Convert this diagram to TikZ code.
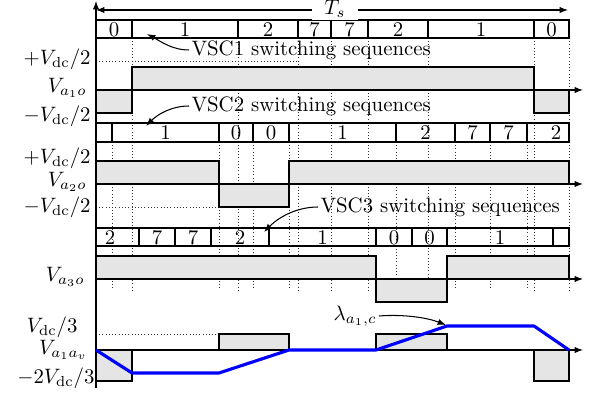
\documentclass[tikz,border=0pt]{standalone}
\usetikzlibrary{arrows.meta}
\begin{document}
\begin{tikzpicture}[x=0.48pt,y=-0.48pt,
  wave/.style={line width=1pt, line join=miter},
  gfill/.style={fill=gray!20},
  seqrow/.style={line width=0.5pt},
  guide/.style={line width=0.4pt, dash pattern=on 0.45pt off 1.1pt, black!80},
  axis/.style={line width=0.5pt, -{Latex[length=4pt,width=3pt]}},
  lbl/.style={anchor=east, inner sep=0pt},
  num/.style={inner sep=0pt},
  note/.style={anchor=west, inner sep=1pt},
  callout/.style={line width=0.5pt, -{Latex[length=4pt,width=3pt]}},
  vavg/.style={blue, line width=1.5pt, line join=round},
]
\useasboundingbox (0,0) rectangle (597,399);

% guide lines
\foreach \x in {132,238,298,331,368,428,534,569} \draw[guide] (\x,38) -- (\x,290);
\foreach \x in {112,219,253,289,396,455,490,527} \draw[guide] (\x,142) -- (\x,290);
\draw[guide] (96,61) -- (298,61);
\draw[guide] (96,207) -- (219,207);
\draw[guide] (96,334) -- (219,334);

% fills
\fill[gfill] (96,90) rectangle (132,113);
\fill[gfill] (132,67) rectangle (534,90);
\fill[gfill] (534,90) rectangle (569,113);
\fill[gfill] (96,161) rectangle (219,184);
\fill[gfill] (219,184) rectangle (289,207);
\fill[gfill] (289,161) rectangle (569,184);
\fill[gfill] (96,256) rectangle (376,279);
\fill[gfill] (376,279) rectangle (447,302);
\fill[gfill] (447,256) rectangle (569,279);
\fill[gfill] (96,350) rectangle (132,381);
\fill[gfill] (219,334) rectangle (289,350);
\fill[gfill] (376,334) rectangle (447,350);
\fill[gfill] (534,350) rectangle (569,381);

% axes
\draw[axis] (96,388) -- (96,1);
\foreach \y in {90,184,279,350} \draw[axis] (96,\y) -- (583,\y);

% waveforms
\draw[wave] (96,90) -- (96,113) -- (132,113) -- (132,67) -- (534,67) -- (534,113) -- (569,113) -- (569,90);
\draw[wave] (96,184) -- (96,161) -- (219,161) -- (219,207) -- (289,207) -- (289,161) -- (569,161) -- (569,184);
\draw[wave] (96,279) -- (96,256) -- (376,256) -- (376,302) -- (447,302) -- (447,256) -- (569,256) -- (569,279);
\draw[wave] (96,350) -- (96,381) -- (132,381) -- (132,350) -- (219,350) -- (219,334) -- (289,334) -- (289,350) -- (376,350) -- (376,334) -- (447,334) -- (447,350) -- (534,350) -- (534,381) -- (569,381) -- (569,350);
\draw[vavg] (96,350) -- (132,373) -- (219,373) -- (289,350) -- (376,350) -- (447,326) -- (534,326) -- (569,350);

% switching sequence rows
\draw[seqrow] (96,20) rectangle (569,38);
\foreach \x in {132,238,298,331,368,428,534} \draw[seqrow] (\x,20) -- (\x,38);
\foreach \x/\t [count=\i] in {114/0,185/1,268/2,314.5/7,349.5/7,398/2,481/1,551.5/0}
  \node[num] (sa\i) at (\x,29.5) {\t};

\draw[seqrow] (96,123) rectangle (569,142);
\foreach \x in {112,219,253,289,396,455,490,527} \draw[seqrow] (\x,123) -- (\x,142);
\foreach \x/\t [count=\i] in {165.5/1,236/0,271/0,342.5/1,425.5/2,472.5/7,508.5/7,556/2}
  \node[num] (sb\i) at (\x,133) {\t};

\draw[seqrow] (96,228) rectangle (569,246);
\foreach \x in {139,175,211,269,376,412,447,553} \draw[seqrow] (\x,228) -- (\x,246);
\foreach \x/\t [count=\i] in {110/2,157/7,193/7,240/2,322.5/1,394/0,429.5/0,500/1}
  \node[num] (sc\i) at (\x,237.5) {\t};

% period
\draw[line width=0.5pt, {Latex[length=4pt,width=3pt]}-{Latex[length=4pt,width=3pt]}] (96,10) -- (568,10);
\node[fill=white, inner xsep=6pt, inner ysep=1pt] (Ts) at (335,9) {$T_s$};

% callouts
\node[note] (vsc1) at (189,50) {VSC1 switching sequences};
\coordinate (p1) at (147,34);
\draw[callout] (vsc1.west) .. controls (172,50) and (160,41) .. (p1);

\node[note] (vsc2) at (189,106) {VSC2 switching sequences};
\coordinate (p2) at (146,126);
\draw[callout] (vsc2.west) .. controls (172,106) and (158,114) .. (p2);

\node[note] (vsc3) at (318,207) {VSC3 switching sequences};
\coordinate (p3) at (264,232);
\draw[callout] (vsc3.west) .. controls (298,207) and (280,216) .. (p3);

\node[anchor=east, inner sep=1pt] (lam) at (379,316) {$\lambda_{a_1,c}$};
\coordinate (p4) at (446,325);
\draw[callout] (lam.east) .. controls (405,314) and (428,318) .. (p4);

% axis labels
\node[lbl] (l1a) at (91,59) {$+V_{\mathrm{dc}}/2$};
\node[lbl] (l1b) at (87,88) {$V_{a_1o}$};
\node[lbl] (l1c) at (91,116) {$-V_{\mathrm{dc}}/2$};
\node[lbl] (l2a) at (91,158) {$+V_{\mathrm{dc}}/2$};
\node[lbl] (l2b) at (87,182) {$V_{a_2o}$};
\node[lbl] (l2c) at (91,207) {$-V_{\mathrm{dc}}/2$};
\node[lbl] (l3b) at (85,277) {$V_{a_3o}$};
\node[lbl] (l4a) at (78,327) {$V_{\mathrm{dc}}/3$};
\node[lbl] (l4b) at (88,350) {$V_{a_1a_v}$};
\node[lbl] (l4c) at (95,378) {$-2V_{\mathrm{dc}}/3$};
\end{tikzpicture}
\end{document}
